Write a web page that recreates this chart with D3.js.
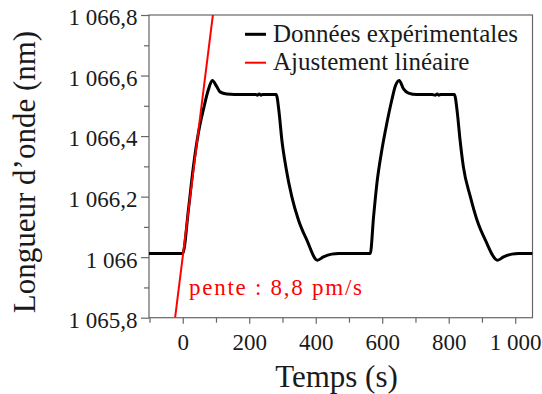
<!DOCTYPE html>
<html><head><meta charset="utf-8">
<script src="https://cdn.jsdelivr.net/npm/d3@7"></script>
</head><body style="margin:0"><svg id="c" width="542" height="394"></svg>
<script>
// Data
const timeS = [-101.5, 0, 17, 32, 47, 62, 77, 89, 102, 112, 132, 180, 220, 225, 230, 235, 240, 281,
  290, 298, 310, 328, 348, 373, 405, 423, 448, 470, 564,
  574, 584, 599, 614, 629, 639, 651, 664, 679, 704, 750, 760, 765, 770, 775, 817,
  826, 834, 844, 865, 885, 910, 947, 965, 990, 1010, 1052];
const wavelengthNm = [1066.012, 1066.012, 1066.156, 1066.299, 1066.410, 1066.487, 1066.553, 1066.584, 1066.564, 1066.546, 1066.539, 1066.537, 1066.537, 1066.535, 1066.539, 1066.535, 1066.537, 1066.537,
  1066.476, 1066.388, 1066.299, 1066.200, 1066.123, 1066.057, 1065.990, 1066.001, 1066.010, 1066.012, 1066.012,
  1066.134, 1066.244, 1066.355, 1066.443, 1066.520, 1066.564, 1066.584, 1066.556, 1066.542, 1066.537, 1066.537, 1066.535, 1066.539, 1066.535, 1066.537, 1066.537,
  1066.476, 1066.388, 1066.299, 1066.200, 1066.123, 1066.057, 1065.990, 1066.001, 1066.010, 1066.012, 1066.012];
const fitTimeS = [-23, 90.6];
const fitWavelengthNm = [1065.8, 1066.8];
const xMajorTicks = [0, 200, 400, 600, 800, 1000];
const xTickLabels = ["0", "200", "400", "600", "800", "1 000"];
const xMinorTicks = [-100, 100, 300, 500, 700, 900];
const yMajorTicks = [1065.8, 1066.0, 1066.2, 1066.4, 1066.6, 1066.8];
const yTickLabels = ["1 065,8", "1 066", "1 066,2", "1 066,4", "1 066,6", "1 066,8"];
const yMinorTicks = [1065.9, 1066.1, 1066.3, 1066.5, 1066.7];
const seriesNames = ["Données expérimentales", "Ajustement linéaire"];
const seriesColors = ["#000000", "#ff0000"];

const FONT = "Liberation Serif";
const svg = d3.select("#c");
const L = 149, R = 532.5, T = 15, B = 317.7;
const x = d3.scaleLinear().domain([-101.5, 1052]).range([L, R]);
const y = d3.scaleLinear().domain([1065.8, 1066.8]).range([B, T]);
const axisCol = "#666";

svg.append("defs").append("clipPath").attr("id", "clip")
  .append("rect").attr("x", L).attr("y", T).attr("width", R - L).attr("height", B - T);

// axes
const gx = svg.append("g").attr("transform", `translate(0,${B})`)
  .call(d3.axisBottom(x).tickValues(xMajorTicks).tickSize(6).tickFormat((d, i) => xTickLabels[i]));
const gxm = svg.append("g").attr("transform", `translate(0,${B})`)
  .call(d3.axisBottom(x).tickValues(xMinorTicks).tickSize(5).tickFormat(""));
const gy = svg.append("g").attr("transform", `translate(${L},0)`)
  .call(d3.axisLeft(y).tickValues(yMajorTicks).tickSize(8).tickPadding(3.5).tickFormat((d, i) => yTickLabels[i]));
const gym = svg.append("g").attr("transform", `translate(${L},0)`)
  .call(d3.axisLeft(y).tickValues(yMinorTicks).tickSize(5).tickFormat(""));
[gx, gxm, gy, gym].forEach(g => {
  g.select(".domain").remove();
  g.selectAll("line").attr("stroke", axisCol).attr("stroke-width", 1.2);
  g.selectAll("text").attr("fill", "#1a1a1a").attr("font-family", FONT).attr("font-size", 23);
});
gx.selectAll("text").attr("y", 0).attr("dy", 0).attr("transform", "translate(0,32.3)");
gy.selectAll("text").attr("dy", "0.43em");

// frame
svg.append("rect").attr("x", L).attr("y", T).attr("width", R - L).attr("height", B - T)
  .attr("fill", "none").attr("stroke", axisCol).attr("stroke-width", 1.2);

// data line
const pts = timeS.map((t, i) => [t, wavelengthNm[i]]);
const line = d3.line().x(d => x(d[0])).y(d => y(d[1])).curve(d3.curveMonotoneX);
svg.append("path").attr("clip-path", "url(#clip)").attr("d", line(pts))
  .attr("fill", "none").attr("stroke", seriesColors[0]).attr("stroke-width", 3).attr("stroke-linejoin", "round");
const fitPts = fitTimeS.map((t, i) => [t, fitWavelengthNm[i]]);
svg.append("path").attr("clip-path", "url(#clip)").attr("d", d3.line().x(d => x(d[0])).y(d => y(d[1]))(fitPts))
  .attr("fill", "none").attr("stroke", seriesColors[1]).attr("stroke-width", 2);

// legend
const legY = [34.3, 62.7];
seriesNames.forEach((n, i) => {
  svg.append("line").attr("x1", 245).attr("x2", 266).attr("y1", legY[i]).attr("y2", legY[i])
    .attr("stroke", seriesColors[i]).attr("stroke-width", i === 0 ? 3 : 2);
  svg.append("text").attr("x", 273).attr("y", legY[i] + 7.5).text(n)
    .attr("font-family", FONT).attr("font-size", 25).attr("fill", "#1a1a1a");
});

// annotation
svg.append("text").attr("x", 189).attr("y", 295).text("pente : 8,8 pm/s")
  .attr("font-family", FONT).attr("font-size", 23).attr("fill", "#ff0000")
  .attr("textLength", 173).attr("lengthAdjust", "spacing");

// titles
svg.append("text").attr("x", 336.5).attr("y", 387).attr("text-anchor", "middle").text("Temps (s)")
  .attr("font-family", FONT).attr("font-size", 31).attr("fill", "#1a1a1a");
svg.append("text").attr("transform", "translate(35,172) rotate(-90)").attr("text-anchor", "middle")
  .text("Longueur d’onde (nm)").attr("font-family", FONT).attr("font-size", 31).attr("fill", "#1a1a1a");
</script></body></html>
